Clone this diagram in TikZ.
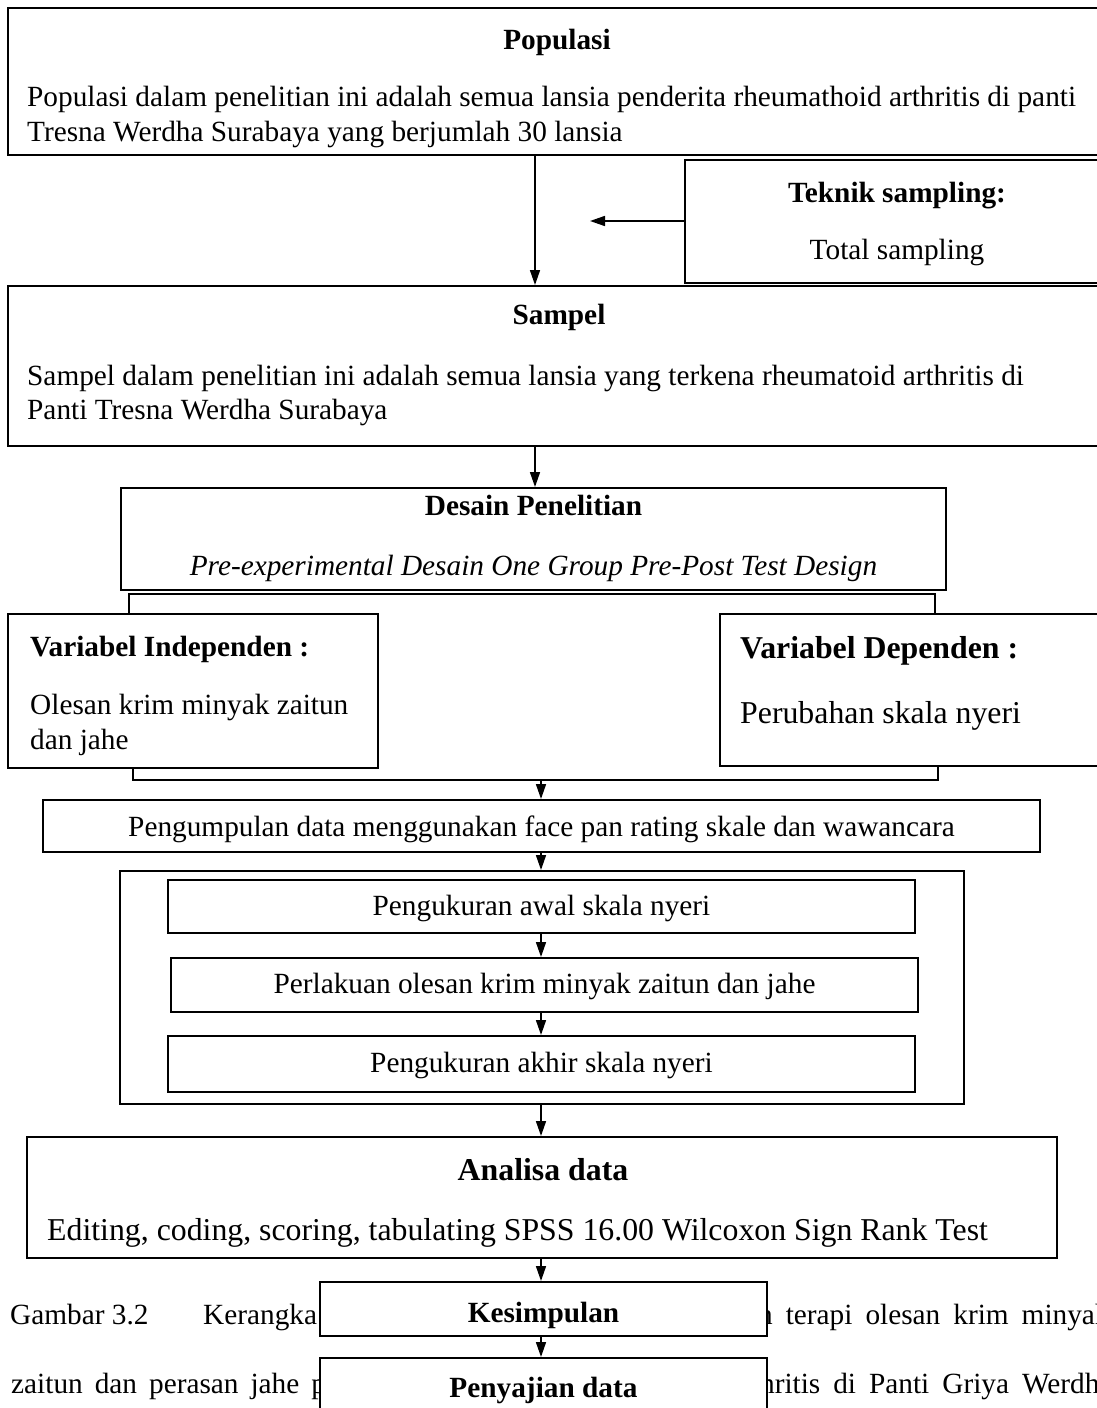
\documentclass[tikz,border=0pt]{standalone}
\usepackage{fontspec}
\setmainfont{Liberation Serif}
\usetikzlibrary{arrows.meta}
\begin{document}
\begin{tikzpicture}[x=1pt,y=-1pt,
  box/.style={draw, line width=2pt, fill=white, inner sep=0pt},
  arr/.style={line width=1.6pt, -{Triangle[length=15pt,width=10pt]}},
  brk/.style={line width=1.8pt},
  tx/.style={inner sep=0pt, font=\fontsize{29.3}{35}\selectfont},
  txb/.style={inner sep=0pt, font=\fontsize{29.3}{35}\selectfont\bfseries},
  txi/.style={inner sep=0pt, font=\fontsize{29.3}{35}\selectfont\itshape},
  tl/.style={inner sep=0pt, font=\fontsize{31.8}{38}\selectfont},
  tlb/.style={inner sep=0pt, font=\fontsize{31.8}{38}\selectfont\bfseries}]
\clip (0,0) rectangle (1097,1408);
\fill[white] (0,0) rectangle (1097,1408);

% caption text (partly hidden behind boxes)
\node[tx, anchor=base west] (cap1) at (10,1324) {Gambar 3.2};
\node[tx, anchor=base west] (cap2) at (203,1324) {Kerangka kerja};
\node[tx, anchor=base west] (cap3) at (688,1324) {\spaceskip=13pt dengan terapi olesan krim minyak};
\node[tx, anchor=base west] (cap4) at (11,1393) {\spaceskip=12pt zaitun dan perasan jahe pada};
\node[tx, anchor=base west] (cap5) at (729,1393) {\spaceskip=13pt arthritis di Panti Griya Werdha};

% boxes
\node[box, minimum width=1102pt, minimum height=147pt] (pop) at (559,81.5) {};
\node[box, minimum width=425pt, minimum height=123pt] (tek) at (897.5,221.5) {};
\node[box, minimum width=1102pt, minimum height=160pt] (samp) at (559,366) {};
\node[box, minimum width=825pt, minimum height=102pt] (des) at (533.5,539) {};
\node[box, minimum width=370pt, minimum height=154pt] (vi) at (193,691) {};
\node[box, minimum width=390pt, minimum height=152pt] (vd) at (915,690) {};
\node[box, minimum width=997pt, minimum height=52pt] (peng) at (541.5,826) {};
\node[box, minimum width=844pt, minimum height=233pt] (outer) at (542,987.5) {};
\node[box, minimum width=747pt, minimum height=53pt] (b1) at (541.5,906.5) {};
\node[box, minimum width=747pt, minimum height=54pt] (b2) at (544.5,985) {};
\node[box, minimum width=747pt, minimum height=56pt] (b3) at (541.5,1064) {};
\node[box, minimum width=1030pt, minimum height=121pt] (ana) at (542,1197.5) {};
\node[box, minimum width=447pt, minimum height=54pt] (kes) at (543.5,1309) {};
\node[box, minimum width=447pt, minimum height=62pt] (pen) at (543.5,1389) {};

% texts
\node[txb, anchor=base] (popt) at (557,49) {Populasi};
\node[tx, anchor=base west] (popl1) at (27,106) {Populasi dalam penelitian ini adalah semua lansia penderita rheumathoid arthritis di panti};
\node[tx, anchor=base west] (popl2) at (27,141) {Tresna Werdha Surabaya yang berjumlah 30 lansia};
\node[txb, anchor=base] (tekt) at (897,202) {Teknik sampling:};
\node[tx, anchor=base] (tekl) at (897,259) {Total sampling};
\node[txb, anchor=base] (sampt) at (559,324) {Sampel};
\node[tx, anchor=base west] (sampl1) at (27,385) {Sampel dalam penelitian ini adalah semua lansia yang terkena rheumatoid arthritis di};
\node[tx, anchor=base west] (sampl2) at (27,419) {Panti Tresna Werdha Surabaya};
\node[txb, anchor=base] (dest) at (533.5,515) {Desain Penelitian};
\node[txi, anchor=base] (desl) at (533.5,575) {Pre-experimental Desain One Group Pre-Post Test Design};
\node[txb, anchor=base west] (vit) at (30,656) {Variabel Independen :};
\node[tx, anchor=base west] (vil1) at (30,714) {Olesan krim minyak zaitun};
\node[tx, anchor=base west] (vil2) at (30,749) {dan jahe};
\node[tlb, anchor=base west] (vdt) at (740,658) {Variabel Dependen :};
\node[tl, anchor=base west] (vdl) at (740,723) {Perubahan skala nyeri};
\node[tx, anchor=base] (pengt) at (541.5,836) {Pengumpulan data menggunakan face pan rating skale dan wawancara};
\node[tx, anchor=base] (b1t) at (541.5,915) {Pengukuran awal skala nyeri};
\node[tx, anchor=base] (b2t) at (544.5,993) {Perlakuan olesan krim minyak zaitun dan jahe};
\node[tx, anchor=base] (b3t) at (541.5,1072) {Pengukuran akhir skala nyeri};
\node[tlb, anchor=base] (anat) at (543,1180) {Analisa data};
\node[tl, anchor=base west] (anal) at (47,1240) {Editing, coding, scoring, tabulating SPSS 16.00 Wilcoxon Sign Rank Test};
\node[txb, anchor=base] (kest) at (543.5,1322) {Kesimpulan};
\node[txb, anchor=base] (pent) at (543.5,1397) {Penyajian data};

% connectors
\coordinate (xa) at (535,0);
\coordinate (xb) at (541,0);
\coordinate (tekend) at (590,221);
\draw[arr] (xa |- pop.south) -- (xa |- samp.north);
\draw[arr] (tek.west |- tekend) -- (tekend);
\draw[arr] (xa |- samp.south) -- (xa |- des.north);
\coordinate (bt) at (0,594);
\draw[brk] (129,0 |- vi.north) -- (129,0 |- bt) -- (935,0 |- bt) -- (935,0 |- vd.north);
\coordinate (bb) at (0,780);
\draw[brk, line width=1.5pt] (133,0 |- vi.south) -- (133,0 |- bb) -- (938,0 |- bb) -- (938,0 |- vd.south);
\draw[arr] (xb |- bb) -- (xb |- peng.north);
\draw[arr] (xb |- peng.south) -- (xb |- outer.north);
\draw[arr] (xb |- b1.south) -- (xb |- b2.north);
\draw[arr] (xb |- b2.south) -- (xb |- b3.north);
\draw[arr] (xb |- outer.south) -- (xb |- ana.north);
\draw[arr] (xb |- ana.south) -- (xb |- kes.north);
\draw[arr] (xb |- kes.south) -- (xb |- pen.north);
\end{tikzpicture}
\end{document}
